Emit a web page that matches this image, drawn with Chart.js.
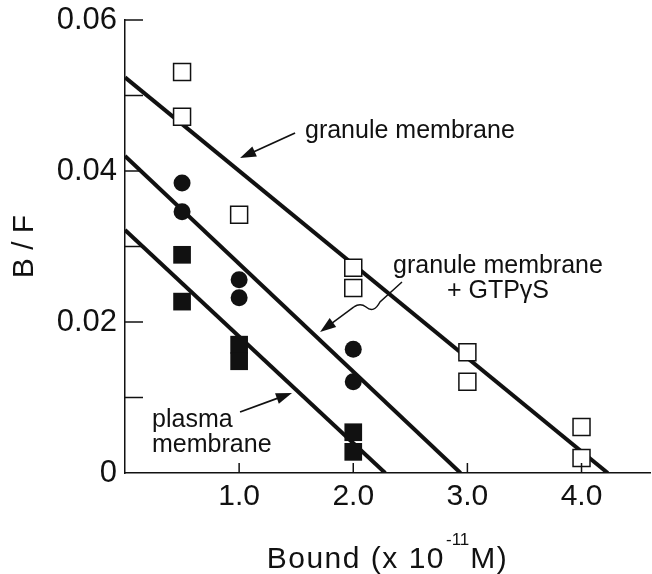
<!DOCTYPE html>
<html>
<head>
<meta charset="utf-8">
<script src="https://cdn.jsdelivr.net/npm/chart.js@4.4.1/dist/chart.umd.min.js"></script>
<style>
  html, body { margin: 0; padding: 0; background: #fff; }
</style>
</head>
<body>
<canvas id="bindingChart" width="652" height="574"></canvas>
<script>
// Scatchard data (Bound in 10^-11 M, B/F)
const granuleX = [0.5, 0.5, 1.0, 2.0, 2.0, 3.0, 3.0, 4.0, 4.0];
const granuleY = [0.0531, 0.0472, 0.0342, 0.0272, 0.0245, 0.0160, 0.0121, 0.0061, 0.0020];
const gtpX = [0.5, 0.5, 1.0, 1.0, 2.0, 2.0];
const gtpY = [0.0384, 0.0346, 0.0256, 0.0232, 0.0164, 0.0121];
const plasmaX = [0.5, 0.5, 1.0, 1.0, 2.0, 2.0];
const plasmaY = [0.0289, 0.0227, 0.0170, 0.0148, 0.0054, 0.0028];

// regression lines (end points)
const granuleFitX = [0, 4.23];
const granuleFitY = [0.0524, 0];
const gtpFitX = [0, 2.94];
const gtpFitY = [0.0420, 0];
const plasmaFitX = [0, 2.28];
const plasmaFitY = [0.0322, 0];

// axis ticks
const xTicks = [1, 2, 3, 4];
const xTickLabels = ["1.0", "2.0", "3.0", "4.0"];
const yTicks = [0, 0.02, 0.04, 0.06];
const yTickLabels = ["0", "0.02", "0.04", "0.06"];
const yMinorTicks = [0.01, 0.03, 0.05];

const FONT = "'Liberation Sans', Arial, Helvetica, sans-serif";
const INK = "#111";

function toPoints(xs, ys) {
  return xs.map((x, i) => ({ x: x, y: ys[i] }));
}

function fitLine(xs, ys) {
  return {
    type: "line",
    data: toPoints(xs, ys),
    borderColor: INK,
    borderWidth: 4,
    pointRadius: 0,
    fill: false,
    order: 2,
  };
}

function arrow(ctx, x0, y0, x1, y1) {
  const ang = Math.atan2(y1 - y0, x1 - x0);
  const len = 16, half = 5.5;
  ctx.beginPath();
  ctx.moveTo(x0, y0);
  ctx.lineTo(x1 - Math.cos(ang) * len * 0.8, y1 - Math.sin(ang) * len * 0.8);
  ctx.stroke();
  ctx.beginPath();
  ctx.moveTo(x1, y1);
  ctx.lineTo(x1 - Math.cos(ang) * len - Math.sin(ang) * half, y1 - Math.sin(ang) * len + Math.cos(ang) * half);
  ctx.lineTo(x1 - Math.cos(ang) * len + Math.sin(ang) * half, y1 - Math.sin(ang) * len - Math.cos(ang) * half);
  ctx.closePath();
  ctx.fill();
}

// tick marks, labels on the plot and the x axis title
const decorations = {
  id: "decorations",
  afterDraw(chart) {
    const { ctx, chartArea } = chart;
    const sx = chart.scales.x, sy = chart.scales.y;
    const px = (v) => sx.getPixelForValue(v);
    const py = (v) => sy.getPixelForValue(v);
    ctx.save();
    ctx.strokeStyle = INK;
    ctx.fillStyle = INK;
    ctx.lineWidth = 1.5;

    // inward tick marks
    yTicks.slice(1).concat(yMinorTicks).forEach((v) => {
      ctx.beginPath();
      ctx.moveTo(chartArea.left, py(v));
      ctx.lineTo(chartArea.left + 18, py(v));
      ctx.stroke();
    });
    xTicks.forEach((v) => {
      ctx.beginPath();
      ctx.moveTo(px(v), chartArea.bottom);
      ctx.lineTo(px(v), chartArea.bottom - 10);
      ctx.stroke();
    });

    // annotations
    ctx.font = "25px " + FONT;
    ctx.textBaseline = "alphabetic";
    ctx.textAlign = "left";
    ctx.fillText("granule membrane", px(1.577), py(0.04437));
    ctx.fillText("plasma", px(0.237), py(0.00609));
    ctx.fillText("membrane", px(0.237), py(0.00278));
    ctx.textAlign = "center";
    ctx.fillText("granule membrane", px(3.268), py(0.02649));
    ctx.fillText("+ GTP\u03B3S", px(3.268), py(0.02318));

    ctx.lineWidth = 1.8;
    arrow(ctx, px(1.490), py(0.04503), px(1.008), py(0.04172));
    arrow(ctx, px(1.008), py(0.00808), px(1.463), py(0.01060));

    // wavy leader for the GTPγS label
    ctx.lineWidth = 1.5;
    ctx.beginPath();
    ctx.moveTo(px(2.427), py(0.02530));
    ctx.lineTo(px(2.234), py(0.02265));
    ctx.quadraticCurveTo(px(2.180), py(0.02110), px(2.112), py(0.02199));
    ctx.quadraticCurveTo(px(2.060), py(0.02260), px(2.006), py(0.02199));
    ctx.stroke();
    arrow(ctx, px(2.006), py(0.02199), px(1.709), py(0.01868));

    // x axis title with superscript
    const cx = (chartArea.left + chartArea.right) / 2;
    const base = 568;
    const mainFont = "30px " + FONT;
    const supFont = "17px " + FONT;
    const a = "Bound (x 10", s = "-11", b = "M)";
    ctx.letterSpacing = "1.5px";
    ctx.font = mainFont;
    const wa = ctx.measureText(a).width, wb = ctx.measureText(b).width;
    ctx.letterSpacing = "0px";
    ctx.font = supFont;
    const ws = ctx.measureText(s).width;
    const gap = 1;
    let x0 = cx - (wa + ws + wb + 2 * gap) / 2;
    ctx.textAlign = "left";
    ctx.letterSpacing = "1.5px";
    ctx.font = mainFont;
    ctx.fillText(a, x0, base);
    ctx.letterSpacing = "0px";
    ctx.font = supFont;
    ctx.fillText(s, x0 + wa + gap, base - 23);
    ctx.letterSpacing = "1.5px";
    ctx.font = mainFont;
    ctx.fillText(b, x0 + wa + ws + 2 * gap, base);
    ctx.restore();
  },
};

const ctx = document.getElementById("bindingChart").getContext("2d");

new Chart(ctx, {
  type: "scatter",
  data: {
    datasets: [
      {
        label: "granule membrane",
        data: toPoints(granuleX, granuleY),
        pointStyle: "rect",
        pointRadius: 12,
        backgroundColor: "#fff",
        borderColor: INK,
        borderWidth: 1.5,
        order: 1,
      },
      {
        label: "granule membrane + GTPγS",
        data: toPoints(gtpX, gtpY),
        pointStyle: "circle",
        pointRadius: 8.5,
        backgroundColor: INK,
        borderColor: INK,
        borderWidth: 0,
        order: 1,
      },
      {
        label: "plasma membrane",
        data: toPoints(plasmaX, plasmaY),
        pointStyle: "rect",
        pointRadius: 12.5,
        backgroundColor: INK,
        borderColor: INK,
        borderWidth: 0,
        order: 1,
      },
      fitLine(granuleFitX, granuleFitY),
      fitLine(gtpFitX, gtpFitY),
      fitLine(plasmaFitX, plasmaFitY),
    ],
  },
  options: {
    responsive: false,
    animation: false,
    layout: { autoPadding: false, padding: { top: 20, right: 2, left: 0, bottom: 0 } },
    plugins: {
      legend: { display: false },
      tooltip: { enabled: false },
    },
    scales: {
      x: {
        type: "linear",
        min: 0,
        max: 4.6,
        afterFit: (scale) => {
          scale.height = 101;
          scale.paddingLeft = 0;
          scale.paddingRight = 0;
        },
        afterBuildTicks: (scale) => { scale.ticks = xTicks.map((v) => ({ value: v })); },
        grid: { display: false, drawTicks: false },
        border: { display: true, color: INK, width: 1.5 },
        ticks: {
          autoSkip: false,
          maxRotation: 0,
          minRotation: 0,
          padding: 6,
          color: INK,
          font: { family: FONT, size: 30 },
          callback: (v) => xTickLabels[xTicks.indexOf(v)],
        },
      },
      y: {
        type: "linear",
        min: 0,
        max: 0.06,
        afterFit: (scale) => {
          scale.width = 125;
          scale.paddingTop = 0;
          scale.paddingBottom = 0;
        },
        afterBuildTicks: (scale) => { scale.ticks = yTicks.map((v) => ({ value: v })); },
        grid: { display: false, drawTicks: false },
        border: { display: true, color: INK, width: 1.5 },
        ticks: {
          padding: 8,
          color: INK,
          font: { family: FONT, size: 31 },
          callback: (v) => yTickLabels[yTicks.indexOf(v)],
        },
        title: {
          display: true,
          text: "B / F",
          color: INK,
          font: { family: FONT, size: 30 },
          padding: { top: 7, bottom: 0 },
        },
      },
    },
  },
  plugins: [decorations],
});
</script>
</body>
</html>
